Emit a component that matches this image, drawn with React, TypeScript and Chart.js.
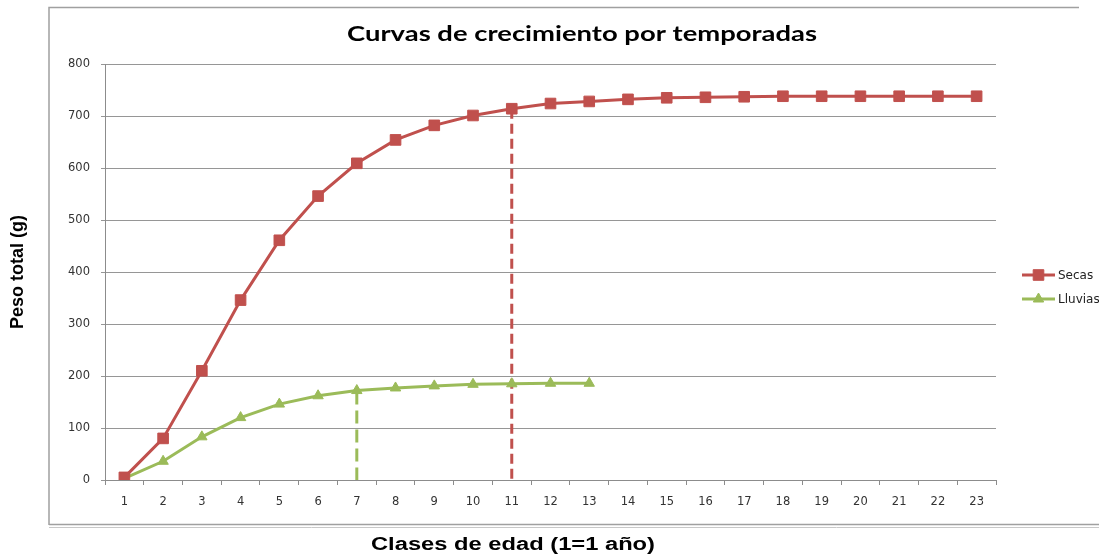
import React, { useEffect, useRef } from 'react';
import { Chart, registerables } from 'chart.js';
import { drawPoint } from 'chart.js/helpers';

Chart.register(...registerables);

const categories = ['1','2','3','4','5','6','7','8','9','10','11','12','13','14','15','16','17','18','19','20','21','22','23'];
const secas = [5, 80, 210, 346, 461, 546, 609, 654, 682, 701, 714, 724, 728, 732, 735, 736, 737, 738, 738, 738, 738, 738, 738];
const lluvias = [3, 36, 83, 120, 146, 162, 172, 177, 181, 184, 185, 186, 186];
const yMin = 0;
const yMax = 800;
const yStep = 100;
const secasGuideX = '11';
const secasGuideY = 714;
const lluviasGuideX = '7';
const lluviasGuideY = 170;
const chartTitle = 'Curvas de crecimiento por temporadas';
const xTitle = 'Clases de edad (1=1 año)';
const yTitle = 'Peso total (g)';
const seriesNames = ['Secas', 'Lluvias'];

const RED = '#C0504D';
const GREEN = '#9BBB59';

function drawStretched(ctx: CanvasRenderingContext2D, text: string, cx: number, cy: number, font: string, targetWidth: number) {
  ctx.save();
  ctx.font = font;
  const w = ctx.measureText(text).width;
  const sx = targetWidth / w;
  ctx.translate(cx, cy);
  ctx.scale(sx, 1);
  ctx.textAlign = 'center';
  ctx.textBaseline = 'middle';
  ctx.fillStyle = '#000';
  ctx.fillText(text, 0, 0);
  ctx.restore();
}

const decorPlugin = {
  id: 'decor',
  beforeDraw(chart: any) {
    const ctx = chart.ctx as CanvasRenderingContext2D;
    ctx.save();
    ctx.fillStyle = '#fff';
    ctx.fillRect(0, 0, chart.width, chart.height);
    ctx.strokeStyle = '#a0a0a0';
    ctx.lineWidth = 1.5;
    ctx.beginPath();
    ctx.moveTo(49, 525);
    ctx.lineTo(49, 7.5);
    ctx.lineTo(1079, 7.5);
    ctx.moveTo(49, 524.5);
    ctx.lineTo(1099, 524.5);
    ctx.stroke();
    ctx.strokeStyle = '#c8c8c8';
    ctx.lineWidth = 1;
    ctx.beginPath();
    ctx.moveTo(49, 527.5);
    ctx.lineTo(1099, 527.5);
    ctx.stroke();
    ctx.restore();
  },
  afterDraw(chart: any) {
    const ctx = chart.ctx as CanvasRenderingContext2D;
    drawStretched(ctx, chartTitle, 582, 34, 'bold 21px Lato', 470);
    drawStretched(ctx, xTitle, 513, 545, 'bold 18px "Liberation Sans"', 284);
    [0, 1].forEach((i) => {
      const ds = chart.data.datasets[i];
      const y = 275 + i * 24;
      ctx.save();
      ctx.strokeStyle = ds.borderColor;
      ctx.lineWidth = 3;
      ctx.beginPath();
      ctx.moveTo(1022, y);
      ctx.lineTo(1055, y);
      ctx.stroke();
      ctx.fillStyle = ds.pointBackgroundColor;
      ctx.strokeStyle = ds.pointBorderColor;
      ctx.lineWidth = 1;
      drawPoint(ctx, { pointStyle: ds.pointStyle, radius: ds.pointRadius, rotation: 0, borderWidth: 1 } as any, 1038.5, y);
      ctx.font = '12px "DejaVu Sans"';
      ctx.fillStyle = '#222';
      ctx.textAlign = 'left';
      ctx.textBaseline = 'middle';
      ctx.fillText(ds.label, 1058, y + 1);
      ctx.restore();
    });
  },
};

export default function App() {
  const ref = useRef<HTMLCanvasElement>(null);
  useEffect(() => {
    if (!ref.current) return;
    const chart = new Chart(ref.current, {
      type: 'line',
      data: {
        labels: categories,
        datasets: [
          {
            label: seriesNames[0],
            data: secas,
            borderColor: RED,
            backgroundColor: RED,
            pointBackgroundColor: RED,
            pointBorderColor: RED,
            pointStyle: 'rect',
            pointRadius: 7.5,
            pointBorderWidth: 1,
            borderWidth: 3,
            tension: 0,
            order: 1,
          },
          {
            label: seriesNames[1],
            data: lluvias,
            borderColor: GREEN,
            backgroundColor: GREEN,
            pointBackgroundColor: GREEN,
            pointBorderColor: GREEN,
            pointStyle: 'triangle',
            pointRadius: 6,
            pointBorderWidth: 1,
            borderWidth: 3,
            tension: 0,
            order: 1,
          },
          {
            label: 'guiaSecas',
            data: [{ x: secasGuideX, y: secasGuideY }, { x: secasGuideX, y: 0 }] as any,
            borderColor: RED,
            borderWidth: 3,
            borderDash: [10, 5],
            pointRadius: 0,
            order: 2,
          },
          {
            label: 'guiaLluvias',
            data: [{ x: lluviasGuideX, y: lluviasGuideY }, { x: lluviasGuideX, y: 0 }] as any,
            borderColor: GREEN,
            borderWidth: 3,
            borderDash: [13, 6],
            pointRadius: 0,
            order: 2,
          },
        ],
      },
      options: {
        animation: false,
        responsive: false,
        layout: { padding: { left: 0, right: 103, top: 64, bottom: 0 } },
        plugins: {
          legend: { display: false },
          title: { display: false },
          tooltip: { enabled: false },
        },
        scales: {
          x: {
            type: 'category',
            offset: true,
            grid: { display: true, drawOnChartArea: false, drawTicks: true, tickLength: 5, offset: true, color: '#8c8c8c' },
            border: { display: true, color: '#8c8c8c', width: 1 },
            ticks: { color: '#333', font: { family: 'DejaVu Sans', size: 11.5 }, padding: 10, maxRotation: 0, autoSkip: false },
            afterFit: (scale: any) => { scale.height = 74; },
          },
          y: {
            min: yMin,
            max: yMax,
            grid: { color: '#969696', drawTicks: true, tickLength: 4 },
            border: { display: true, color: '#8c8c8c', width: 1 },
            ticks: { stepSize: yStep, color: '#333', font: { family: 'DejaVu Sans', size: 11.5 }, padding: 11 },
            title: { display: true, text: yTitle, color: '#000', font: { family: 'Liberation Sans', size: 18, weight: 'bold' }, padding: { top: 7, bottom: 0 } },
            afterFit: (scale: any) => { scale.width = 105; },
          },
        },
      },
      plugins: [decorPlugin],
    });
    return () => chart.destroy();
  }, []);
  return (
    <canvas ref={ref} width={1099} height={554} style={{ position: 'absolute', left: 0, top: 0, width: 1099, height: 554 }} />
  );
}
